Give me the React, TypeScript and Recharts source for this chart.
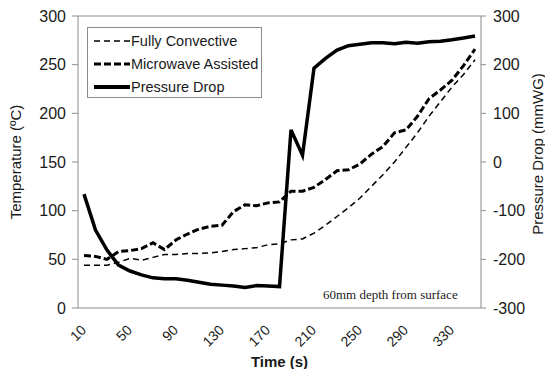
import {
  LineChart,
  Line,
  XAxis,
  YAxis,
  ReferenceLine,
} from 'recharts';

const times = [
  10, 20, 30, 40, 50, 60, 70, 80, 90, 100, 110, 120, 130, 140, 150, 160, 170, 180,
  190, 200, 210, 220, 230, 240, 250, 260, 270, 280, 290, 300, 310, 320, 330, 340, 350,
];

const fullyConvective = [
  44, 44, 44, 47, 51, 49, 52, 55, 55, 56, 56, 56.5, 58, 60, 61, 62, 65, 66,
  70, 71, 77, 85, 94, 103, 113, 125, 137, 150, 165, 180, 197, 212, 227, 240, 255,
];

const microwaveAssisted = [
  54, 53, 50, 58, 59, 61, 67, 60, 70, 76, 81, 84, 85, 99, 106, 105, 108, 109,
  120, 120, 124, 132, 141, 142, 148, 158, 166, 180, 183, 197, 215, 224, 234, 249, 266,
];

const pressureDrop = [
  -66, -140, -181, -212, -224, -232, -238, -240, -240, -243, -247, -251, -253, -255, -258, -254, -255, -256,
  66, 14, 193, 213, 230, 239, 242, 245, 245, 243, 246, 244, 247, 248, 251, 255, 259,
];

const tempTicks = [0, 50, 100, 150, 200, 250, 300];
const pressureTicks = [-300, -200, -100, 0, 100, 200, 300];

const data = times.map((t, i) => ({
  time: t,
  fc: fullyConvective[i],
  mw: microwaveAssisted[i],
  pd: pressureDrop[i],
}));

const FONT = 'Liberation Sans, Arial, sans-serif';
const AXIS = '#8c8c8c';
const INK = '#1a1a1a';

const XTick = ({ x, y, payload }: any) => (
  <text
    x={x + 3}
    y={y + 15}
    transform={`rotate(-45 ${x + 3} ${y + 15})`}
    textAnchor="end"
    fontSize={14}
    fill={INK}
    fontFamily={FONT}
  >
    {payload.value}
  </text>
);

const legendItems = [
  { label: 'Fully Convective', width: 1.5, dash: '6 4' },
  { label: 'Microwave Assisted', width: 3, dash: '7 3' },
  { label: 'Pressure Drop', width: 4, dash: undefined },
];

const LegendBox = () => (
  <div
    style={{
      position: 'absolute',
      left: 87,
      top: 27,
      border: '1px solid #8c8c8c',
      background: '#fff',
      width: 175,
      height: 71,
      boxSizing: 'border-box',
      padding: '1px 0 0 6px',
      fontFamily: FONT,
      fontSize: 14.5,
      color: INK,
    }}
  >
    {legendItems.map((it) => (
      <div key={it.label} style={{ display: 'flex', alignItems: 'center', height: 23 }}>
        <svg width={36} height={10}>
          <line x1={0} x2={36} y1={5} y2={5} stroke="#000" strokeWidth={it.width} strokeDasharray={it.dash} />
        </svg>
        <span style={{ marginLeft: 1 }}>{it.label}</span>
      </div>
    ))}
  </div>
);

export default function App() {
  return (
    <div style={{ position: 'relative', width: 545, height: 369, background: '#fff' }}>
      <style>{'body{margin:0}'}</style>
      <LineChart
        width={545}
        height={369}
        data={data}
        margin={{ top: 16, right: 4, left: 18, bottom: 16 }}
      >
        <XAxis
          dataKey="time"
          interval={3}
          padding={{ left: 6, right: 6 }}
          tick={<XTick />}
          tickLine={false}
          axisLine={{ stroke: AXIS }}
          height={45}
          label={{ value: 'Time (s)', position: 'insideBottom', offset: -14, fontSize: 15, fontWeight: 'bold', fill: INK, fontFamily: FONT }}
        />
        <YAxis
          yAxisId="left"
          domain={[0, 300]}
          ticks={tempTicks}
          width={60}
          tickSize={6}
          tickMargin={6}
          axisLine={{ stroke: AXIS }}
          tickLine={{ stroke: AXIS }}
          tick={{ fontSize: 16, fill: INK, fontFamily: FONT }}
          label={{ value: 'Temperature (ºC)', angle: -90, position: 'insideLeft', offset: 0, dx: -2, fontSize: 15, fill: INK, fontFamily: FONT, style: { textAnchor: 'middle' } }}
        />
        <YAxis
          yAxisId="right"
          orientation="right"
          domain={[-300, 300]}
          ticks={pressureTicks}
          width={60}
          tickSize={5}
          tickMargin={7}
          axisLine={{ stroke: AXIS }}
          tickLine={{ stroke: AXIS }}
          tick={{ fontSize: 16, fill: INK, fontFamily: FONT, textAnchor: 'start' }}
          label={{ value: 'Pressure Drop (mmWG)', angle: -90, position: 'insideRight', offset: 0, dx: -3, dy: -8, fontSize: 15, fill: INK, fontFamily: FONT, style: { textAnchor: 'middle' } }}
        />
        <ReferenceLine yAxisId="left" y={300} stroke={AXIS} />
        <Line
          yAxisId="left"
          dataKey="fc"
          name="Fully Convective"
          stroke="#000"
          strokeWidth={1.5}
          strokeDasharray="6 4"
          dot={false}
          isAnimationActive={false}
        />
        <Line
          yAxisId="left"
          dataKey="mw"
          name="Microwave Assisted"
          stroke="#000"
          strokeWidth={3}
          strokeDasharray="7 3"
          dot={false}
          isAnimationActive={false}
        />
        <Line
          yAxisId="right"
          dataKey="pd"
          name="Pressure Drop"
          stroke="#000"
          strokeWidth={3.5}
          dot={false}
          isAnimationActive={false}
        />
      </LineChart>
      <LegendBox />
      <div
        style={{
          position: 'absolute',
          left: 323,
          top: 287,
          fontFamily: 'Liberation Serif, Times New Roman, serif',
          fontSize: 13,
          color: INK,
        }}
      >
        60mm depth from surface
      </div>
    </div>
  );
}
